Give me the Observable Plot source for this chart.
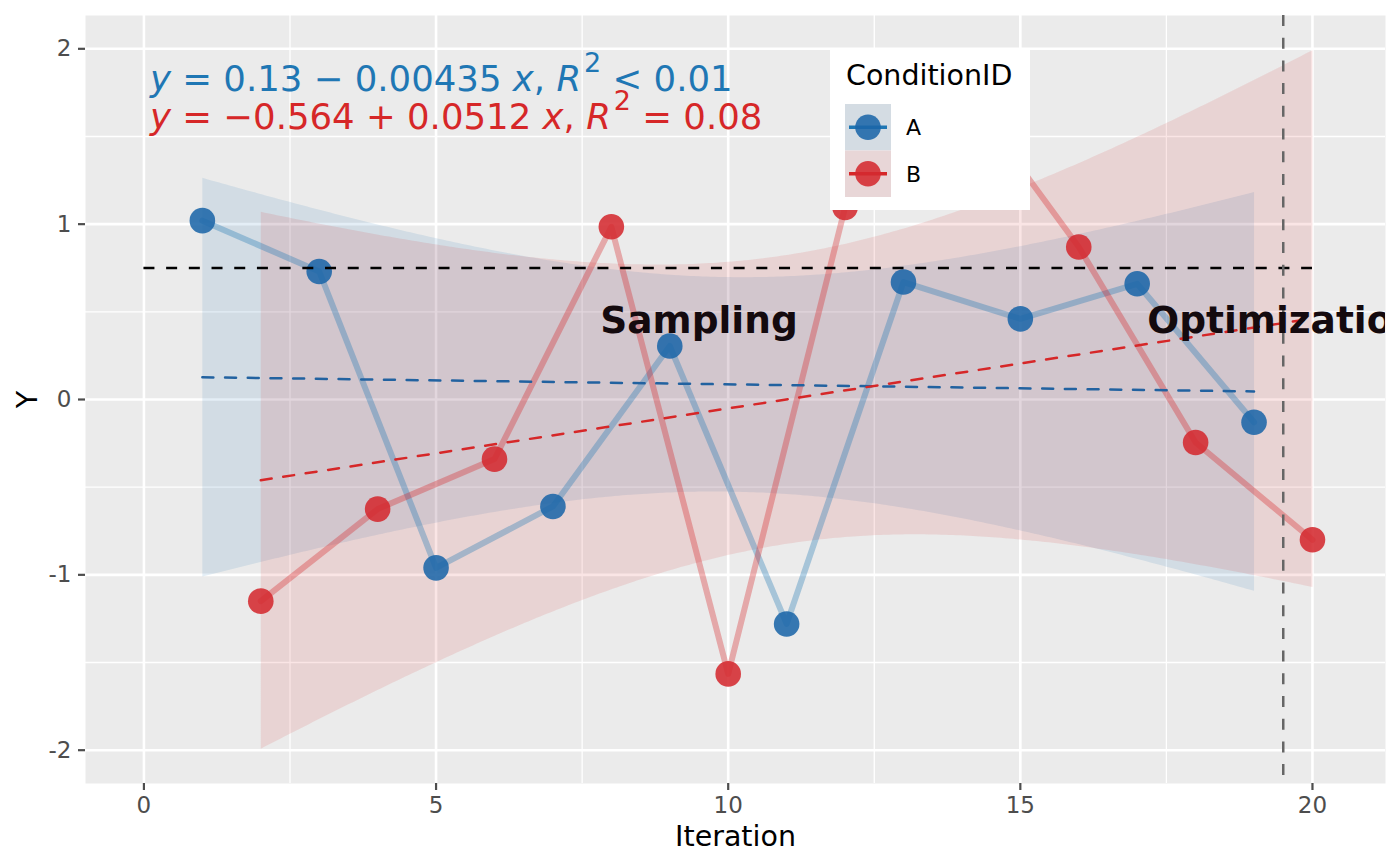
<!DOCTYPE html>
<html>
<head>
<meta charset="utf-8">
<script src="https://cdn.jsdelivr.net/npm/d3@7"></script>
<script src="https://cdn.jsdelivr.net/npm/@observablehq/plot@0.6"></script>
<style>
  html, body { margin: 0; padding: 0; background: white; }
  #chart { width: 1400px; height: 866px; }
</style>
</head>
<body>
<div id="chart"></div>
<script>
// ---------------- data ----------------
const conditions = ["A", "B"];
const iterA = [1, 3, 5, 7, 9, 11, 13, 15, 17, 19];
const yA    = [1.02, 0.73, -0.96, -0.61, 0.305, -1.28, 0.67, 0.46, 0.66, -0.13];
const iterB = [2, 4, 6, 8, 10, 12, 14, 16, 18, 20];
const yB    = [-1.15, -0.625, -0.34, 0.985, -1.565, 1.095, 1.78, 0.87, -0.245, -0.80];

const xTicks = [0, 5, 10, 15, 20];
const xMinor = [2.5, 7.5, 12.5, 17.5];
const yTicks = [-2, -1, 0, 1, 2];
const yMinor = [-1.5, -0.5, 0.5, 1.5];

const targetY = 0.75;          // horizontal reference
const targetSpan = [0, 20];
const phaseBoundary = 19.5;    // vertical reference
const phaseLabels = ["Sampling", "Optimization"];
const phaseX = [9.5, 19.5];
const phaseY = [0.45, 0.45];

const eqA = "0.13 − 0.00435", r2A = "< 0.01";
const eqB = "−0.564 + 0.0512", r2B = "= 0.08";

// ---------------- styles ----------------
const colors = {A: "#1F77B4", B: "#D62728"};
const pointColors = {A: "#1D66A8", B: "#D42A30"};
const fitColors = {A: "#2262A0", B: "#D62728"};
const keyBg  = {A: "#D4DCE3", B: "#E8D6D7"};
const FONT = "DejaVu Sans";

const rowsA = iterA.map((x, i) => ({x, y: yA[i], cond: "A"}));
const rowsB = iterB.map((x, i) => ({x, y: yB[i], cond: "B"}));
const series = {A: rowsA, B: rowsB};

const marks = [
  Plot.frame({fill: "#EBEBEB"}),
  Plot.ruleX(xMinor, {stroke: "white", strokeWidth: 1.3}),
  Plot.ruleY(yMinor, {stroke: "white", strokeWidth: 1.3}),
  Plot.ruleX(xTicks, {stroke: "white", strokeWidth: 2.6}),
  Plot.ruleY(yTicks, {stroke: "white", strokeWidth: 2.6}),
];
// confidence bands
for (const c of conditions) {
  marks.push(Plot.linearRegressionY(series[c], {
    x: "x", y: "y", ci: 0.95, fill: colors[c], fillOpacity: 0.12, stroke: "none"
  }));
}
// connecting lines
for (const c of conditions) {
  marks.push(Plot.line(series[c], {
    x: "x", y: "y", stroke: colors[c], strokeOpacity: 0.34, strokeWidth: 6
  }));
}
// regression lines
for (const c of conditions) {
  marks.push(Plot.linearRegressionY(series[c], {
    x: "x", y: "y", ci: 0, stroke: fitColors[c], strokeWidth: 2.5, strokeDasharray: "11,11.7"
  }));
}
// points
for (const c of conditions) {
  marks.push(Plot.dot(series[c], {
    x: "x", y: "y", r: 12.8, fill: pointColors[c], fillOpacity: 0.88, stroke: "none"
  }));
}
marks.push(
  Plot.ruleY([targetY], {x1: targetSpan[0], x2: targetSpan[1], stroke: "black", strokeWidth: 2.5, strokeDasharray: "11,11.7"}),
  Plot.ruleX([phaseBoundary], {stroke: "#666666", strokeWidth: 2.5, strokeDasharray: "11,11.7"}),
  Plot.text(phaseLabels, {
    x: (d, i) => phaseX[i], y: (d, i) => phaseY[i], text: d => d,
    fontSize: 37.5, fontWeight: "bold", fill: "#140A0E", clip: "frame", fontFamily: FONT
  }),
  Plot.axisX({ticks: xTicks, tickSize: 7, tickPadding: 6, fontSize: 23, tickFormat: d => String(d),
    color: "#4D4D4D", strokeWidth: 2.2, label: null}),
  Plot.axisY({ticks: yTicks, tickSize: 7, tickPadding: 7, fontSize: 23, tickFormat: d => String(d),
    color: "#4D4D4D", strokeWidth: 2.2, label: null}),
  Plot.text(["Iteration"], {frameAnchor: "bottom", dy: 53, lineAnchor: "middle", textAnchor: "middle",
    text: d => d, fontSize: 28.5, fill: "black"}),
  Plot.text(["Y"], {frameAnchor: "left", dx: -58, rotate: -90, lineAnchor: "middle", textAnchor: "middle",
    text: d => d, fontSize: 28.5, fill: "black"})
);

const chart = Plot.plot({
  width: 1400, height: 866,
  marginLeft: 85, marginRight: 15, marginTop: 15, marginBottom: 83,
  x: {domain: [-1, 21.25]},
  y: {domain: [-2.19, 2.19]},
  style: {fontFamily: FONT, background: "white"},
  marks
});
document.getElementById("chart").appendChild(chart);

// ---------------- equations & legend (annotations) ----------------
const svg = d3.select(chart);
const eqs = [
  {c: "A", coef: eqA, r2: r2A, y: 91},
  {c: "B", coef: eqB, r2: r2B, y: 129}
];
const eg = svg.append("g").attr("font-family", FONT).attr("font-size", 35.5).attr("text-anchor", "start");
for (const e of eqs) {
  const t = eg.append("text").attr("x", 150).attr("y", e.y).attr("fill", colors[e.c])
    .attr("text-anchor", "start");
  t.append("tspan").attr("font-style", "italic").text("y");
  t.append("tspan").text(" = " + e.coef + " ");
  t.append("tspan").attr("font-style", "italic").text("x");
  t.append("tspan").text(", ");
  t.append("tspan").attr("font-style", "italic").text("R");
  t.append("tspan").attr("font-size", 27).attr("dy", -19).attr("dx", 3).text("2");
  t.append("tspan").attr("dy", 19).text(" " + e.r2);
}

const lg = svg.append("g").attr("font-family", FONT).attr("text-anchor", "start");
lg.append("rect").attr("x", 830).attr("y", 48).attr("width", 200).attr("height", 162).attr("fill", "white");
lg.append("text").attr("x", 846).attr("y", 85).attr("font-size", 28.5).attr("fill", "black").text("ConditionID");
conditions.forEach((c, i) => {
  const top = 104 + 46.5 * i, cy = top + 23.25;
  lg.append("rect").attr("x", 845).attr("y", top).attr("width", 46).attr("height", 46.5).attr("fill", keyBg[c]);
  lg.append("line").attr("x1", 849).attr("x2", 887).attr("y1", cy).attr("y2", cy)
    .attr("stroke", colors[c]).attr("stroke-width", 3.5);
  lg.append("circle").attr("cx", 868).attr("cy", cy).attr("r", 12.8).attr("fill", pointColors[c]).attr("fill-opacity", 0.88);
  lg.append("text").attr("x", 906).attr("y", cy + 8).attr("font-size", 22).attr("fill", "black").text(c);
});
</script>
</body>
</html>
